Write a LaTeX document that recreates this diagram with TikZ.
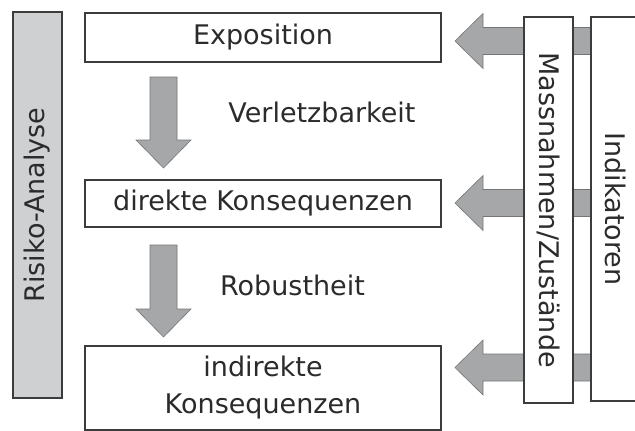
\documentclass[tikz,border=0pt]{standalone}
\usepackage{fontspec}
\setmainfont{DejaVu Sans}
\usetikzlibrary{calc,backgrounds}

\definecolor{boxline}{HTML}{3C3C3C}
\definecolor{arrowgray}{HTML}{A5A7A9}
\definecolor{sidegray}{HTML}{CFD0D1}
\definecolor{textgray}{HTML}{2B2B2B}

\tikzset{
  box/.style={draw=boxline, line width=1.4pt, fill=white, inner sep=0pt, text=textgray},
  sidebox/.style={box, minimum width=386pt, minimum height=49pt},
  blockarrow/.style={fill=arrowgray, draw=arrowgray!70!black, line width=0.6pt,
    to path={
      ($(\tikztostart)!13.5pt!90:(\tikztotarget)$)
      -- ($($(\tikztotarget)!28pt!(\tikztostart)$)!13.5pt!-90:(\tikztostart)$)
      -- ($($(\tikztotarget)!28pt!(\tikztostart)$)!27.5pt!-90:(\tikztostart)$)
      -- (\tikztotarget)
      -- ($($(\tikztotarget)!28pt!(\tikztostart)$)!27.5pt!90:(\tikztostart)$)
      -- ($($(\tikztotarget)!28pt!(\tikztostart)$)!13.5pt!90:(\tikztostart)$)
      -- ($(\tikztostart)!13.5pt!-90:(\tikztotarget)$)
      -- cycle}}
}

\begin{document}
\begin{tikzpicture}[x=1pt, y=-1pt, font=\fontsize{27}{37}\selectfont]
  \useasboundingbox (0,0) rectangle (635,431);

  % left column
  \node[sidebox, fill=sidegray, rotate=90] (risk) at (37.5,205) {Risiko-Analyse};

  % chain of boxes
  \node[box, minimum width=356pt, minimum height=49pt] (expo) at (263,37.5) {Exposition};
  \node[box, minimum width=356pt, minimum height=47pt] (dk) at (263,203.5) {direkte Konsequenzen};
  \node[box, minimum width=356pt, minimum height=84pt, align=center] (ik) at (263,388) {indirekte\\Konsequenzen};
  \node[text=textgray] (verl) at (322,112) {Verletzbarkeit};
  \node[text=textgray] (rob) at (292.5,285) {Robustheit};

  % right columns
  \node[sidebox, rotate=-90] (mass) at (548.5,210) {Massnahmen/Zustände};
  \node[sidebox, minimum width=384pt, rotate=-90] (ind) at (615.5,209) {Indikatoren};

  \coordinate (d1) at (163.5,77);
  \coordinate (d1tip) at (163.5,168);
  \coordinate (d2) at (163.5,245);
  \coordinate (d2tip) at (163.5,337);
  \coordinate (l1) at (455,41);
  \coordinate (l2) at (455,203);
  \coordinate (l3) at (455,367.5);

  \begin{scope}[on background layer]
    \path[blockarrow] (d1) to (d1tip);
    \path[blockarrow] (d2) to (d2tip);
    \path[blockarrow] (ind.south |- l1) to (l1);
    \path[blockarrow] (ind.south |- l2) to (l2);
    \path[blockarrow] (ind.south |- l3) to (l3);
  \end{scope}
\end{tikzpicture}
\end{document}
